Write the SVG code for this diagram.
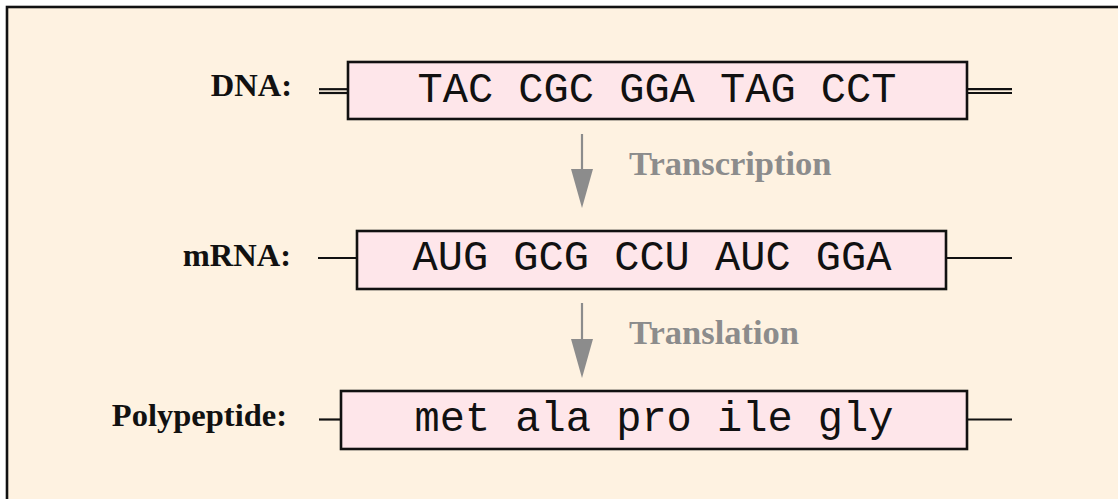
<svg xmlns="http://www.w3.org/2000/svg" width="1118" height="499" viewBox="0 0 1118 499">
<style>
.bg{fill:#fef2e1;stroke:#111;stroke-width:2.6}
.box{fill:#fee6ea;stroke:#111;stroke-width:2.6}
.seq{font-family:"Liberation Mono","Courier New",monospace;font-size:42px;fill:#111;text-anchor:middle}
.lbl{font-family:"Liberation Serif","Times New Roman",serif;font-size:32.5px;font-weight:bold;fill:#111;text-anchor:end}
.step{font-family:"Liberation Serif","Times New Roman",serif;font-size:34.5px;font-weight:bold;fill:#8c8c8c}
.ln{stroke:#111;stroke-width:2.2;fill:none}
.shaft{stroke:#8c8c8c;stroke-width:2.2;fill:none}
.head{fill:#8c8c8c}
</style>
<rect x="0" y="0" width="1118" height="499" fill="#ffffff"/>
<rect class="bg" x="7" y="7" width="1125" height="510"/>
<g id="connectors">
<line class="ln" x1="319" y1="89.2" x2="348" y2="89.2"/>
<line class="ln" x1="319" y1="93" x2="348" y2="93"/>
<line class="ln" x1="967" y1="89.2" x2="1012" y2="89.2"/>
<line class="ln" x1="967" y1="93" x2="1012" y2="93"/>
<line class="ln" x1="318" y1="258" x2="357" y2="258"/>
<line class="ln" x1="946" y1="258" x2="1012" y2="258"/>
<line class="ln" x1="319" y1="419.5" x2="341" y2="419.5"/>
<line class="ln" x1="967" y1="419.5" x2="1012" y2="419.5"/>
<line class="shaft" x1="582" y1="134" x2="582" y2="172"/>
<polygon class="head" points="571,169 593,169 582,208"/>
<line class="shaft" x1="582" y1="303" x2="582" y2="342"/>
<polygon class="head" points="571,339 593,339 582,378"/>
</g>
<g id="transcription-label"><text class="step" x="629" y="175">Transcription</text></g>
<g id="translation-label"><text class="step" x="629" y="344">Translation</text></g>
<g id="dna">
<text class="lbl" x="292" y="96">DNA:</text>
<rect class="box" x="348" y="62" width="619" height="57"/>
<text class="seq" x="657" y="102">TAC CGC GGA TAG CCT</text>
</g>
<g id="mrna">
<text class="lbl" x="291" y="266">mRNA:</text>
<rect class="box" x="357" y="231" width="589" height="58"/>
<text class="seq" x="652" y="270">AUG GCG CCU AUC GGA</text>
</g>
<g id="polypeptide">
<text class="lbl" x="287" y="426">Polypeptide:</text>
<rect class="box" x="341" y="391" width="626" height="58"/>
<text class="seq" x="654" y="431">met ala pro ile gly</text>
</g>
</svg>
